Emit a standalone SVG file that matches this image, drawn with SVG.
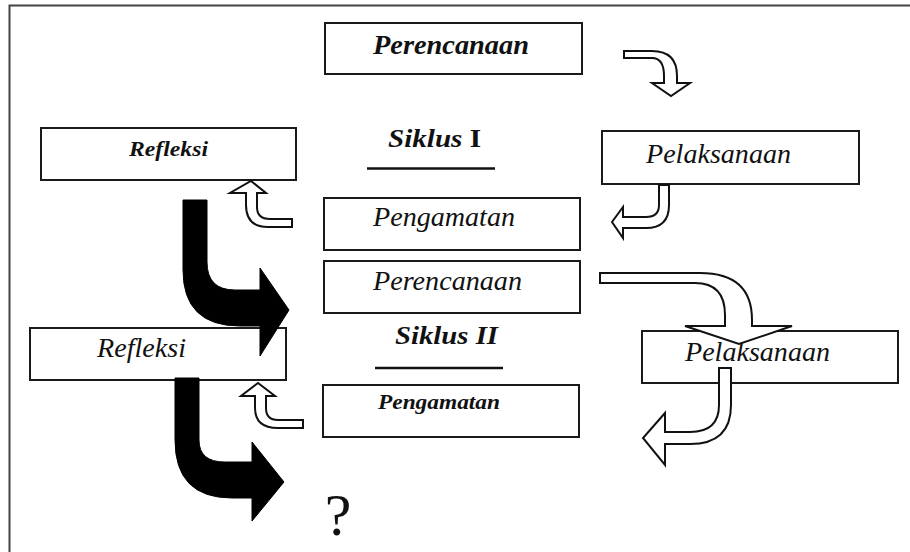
<svg xmlns="http://www.w3.org/2000/svg" width="910" height="552" viewBox="0 0 910 552">
<style>
.box{fill:#fff;stroke:#1a1a1a;stroke-width:2}
.t{font-family:"Liberation Serif","Times New Roman",serif;font-style:italic;fill:#111}
.b{font-weight:bold}
.hollow{fill:#fff;stroke:#111;stroke-width:2;stroke-linejoin:miter}
.solid{fill:#000;stroke:#000;stroke-width:1}
</style>
<rect width="910" height="552" fill="#fff"/>
<path d="M9.5,552 L9.5,5.5 L910,5.5" fill="none" stroke="#444" stroke-width="2"/>

<g id="perencanaan1">
<rect class="box" x="325" y="23" width="257" height="51"/>
<text class="t b" x="373" y="54" font-size="28" textLength="156" lengthAdjust="spacingAndGlyphs">Perencanaan</text>
</g>
<g id="refleksi1">
<rect class="box" x="41" y="128" width="255" height="52"/>
<text class="t b" x="129" y="156" font-size="22" textLength="79" lengthAdjust="spacingAndGlyphs">Refleksi</text>
</g>
<g id="siklus1">
<text class="t b" x="388" y="147" font-size="26" textLength="93" lengthAdjust="spacingAndGlyphs">Siklus <tspan font-style="normal">I</tspan></text>
<line x1="367" y1="168.5" x2="495" y2="168.5" stroke="#111" stroke-width="2.5"/>
</g>
<g id="pelaksanaan1">
<rect class="box" x="602" y="131" width="257" height="53"/>
<text class="t" x="646" y="163" font-size="27" textLength="145" lengthAdjust="spacingAndGlyphs">Pelaksanaan</text>
</g>
<g id="pengamatan1">
<rect class="box" x="324" y="198" width="256" height="52"/>
<text class="t" x="373" y="226" font-size="27" textLength="142" lengthAdjust="spacingAndGlyphs">Pengamatan</text>
</g>
<g id="perencanaan2">
<rect class="box" x="324" y="261" width="256" height="52"/>
<text class="t" x="373" y="290" font-size="27" textLength="149" lengthAdjust="spacingAndGlyphs">Perencanaan</text>
</g>
<g id="siklus2">
<text class="t b" x="395" y="344" font-size="26" textLength="103" lengthAdjust="spacingAndGlyphs">Siklus II</text>
<line x1="375" y1="368" x2="503" y2="368" stroke="#111" stroke-width="2.5"/>
</g>
<g id="refleksi2">
<rect class="box" x="30" y="328" width="256" height="52"/>
<text class="t" x="97" y="357" font-size="27" textLength="89" lengthAdjust="spacingAndGlyphs">Refleksi</text>
</g>
<g id="pelaksanaan2">
<rect class="box" x="642" y="331" width="256" height="52"/>
<text class="t" x="685" y="361" font-size="27" textLength="145" lengthAdjust="spacingAndGlyphs">Pelaksanaan</text>
</g>
<g id="pengamatan2">
<rect class="box" x="323" y="385" width="256" height="52"/>
<text class="t b" x="378" y="409" font-size="21" textLength="122" lengthAdjust="spacingAndGlyphs">Pengamatan</text>
</g>
<g id="question">
<text x="338" y="535" font-family="Liberation Serif, serif" font-size="60" text-anchor="middle" fill="#111">?</text>
</g>

<g id="connectors">
<path class="hollow" d="M624,51 L652,51 Q677,51 677,76 L677,83 L690,83 L671,96 L652,83 L664,83 L664,76 Q664,58 652,58 L624,58 Z"/>
<path class="hollow" d="M292,227 L268,227 Q246,227 246,205 L246,193 L230,193 L251,181 L266,193 L257,193 L257,207 Q257,219 270,219 L292,219 Z"/>
<path class="hollow" d="M659,185 L669,185 L669,205 Q669,228 646,228 L623,228 L623,238 L612,222 L623,207 L623,217 L646,217 Q659,217 659,205 Z"/>
<path class="solid" d="M183,200 L207,200 L207,262 Q207,290 235,290 L260,290 L260,268 L289,310 L260,356 L260,326 L240,326 Q183,326 183,270 Z"/>
<path class="hollow" d="M600,273 L700,273 Q752,273 752,320 L752,326 L792,326 L739,344 L685,326 L725,326 L725,315 Q725,283 695,283 L600,283 Z"/>
<path class="hollow" d="M719,368 L731,368 L731,405 Q731,444 690,444 L665,444 L665,465 L643,438 L665,413 L665,432 L690,432 Q719,432 719,405 Z"/>
<path class="hollow" d="M303,428 L278,428 Q255,428 255,408 L255,396 L241,396 L258,383 L275,396 L266,396 L266,408 Q266,420 278,420 L303,420 Z"/>
<path class="solid" d="M175,378 L199,378 L199,440 Q199,462 225,462 L252,462 L252,442 L284,482 L252,521 L252,498 L232,498 Q175,498 175,440 Z"/>
</g>
</svg>
